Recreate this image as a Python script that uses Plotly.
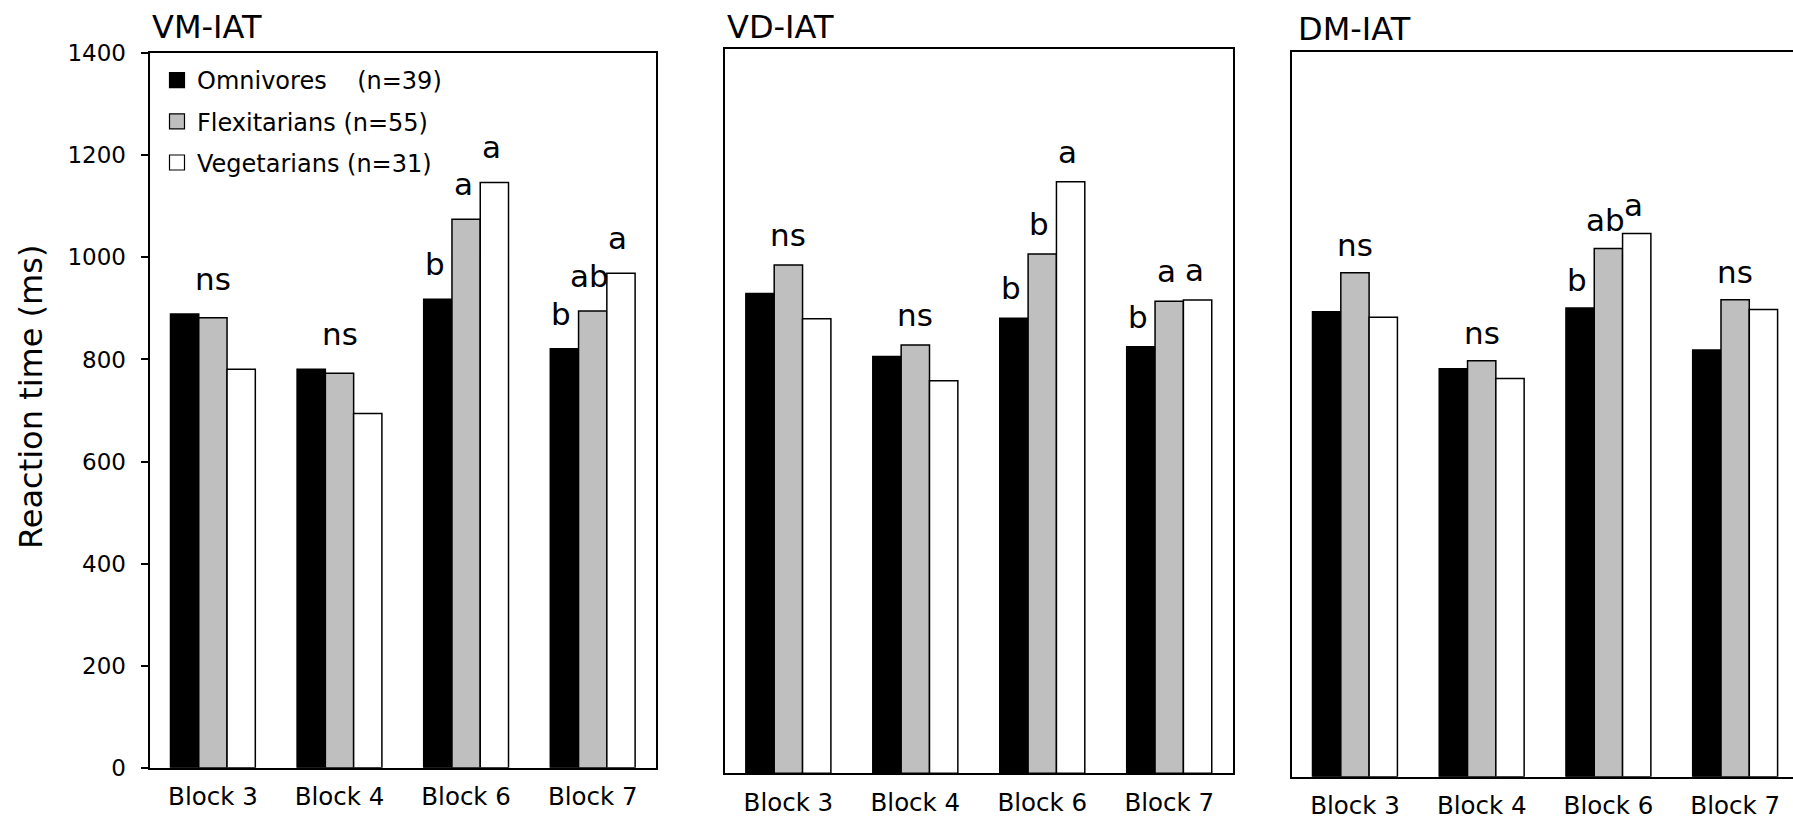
import plotly.graph_objects as go

# ---------------- data ----------------
blocks = ["Block 3", "Block 4", "Block 6", "Block 7"]
groups = ["Omnivores", "Flexitarians", "Vegetarians"]
legend_labels = ["Omnivores\u00a0\u00a0\u00a0 (n=39)", "Flexitarians (n=55)", "Vegetarians (n=31)"]
panel_titles = ["VM-IAT", "VD-IAT", "DM-IAT"]
y_title = "Reaction time (ms)"
y_ticks = [0, 200, 400, 600, 800, 1000, 1200, 1400]

vm_omni = [889, 781, 918, 821]
vm_flex = [882, 773, 1075, 895]
vm_veg = [781, 694, 1147, 969]

vd_omni = [928, 806, 880, 825]
vd_flex = [983, 828, 1004, 913]
vd_veg = [879, 759, 1144, 915]

dm_omni = [898, 788, 905, 824]
dm_flex = [973, 803, 1020, 921]
dm_veg = [887, 769, 1049, 902]

vm_letters = [["ns"], ["ns"], ["b", "a", "a"], ["b", "ab", "a"]]
vd_letters = [["ns"], ["ns"], ["b", "b", "a"], ["b", "a", "a"]]
dm_letters = [["ns"], ["ns"], ["b", "ab", "a"], ["ns"]]

# ---------------- style / layout ----------------
W, H = 1793, 820
FONT = "DejaVu Sans"
colors = ["#000000", "#BFBFBF", "#FFFFFF"]
BARGAP = 0.33

# panel pixel boxes (left, right, top, bottom); panel 3 is cropped at the right edge
boxes = [(149.6, 656.0, 53.3, 767.7), (724.9, 1232.7, 49.3, 773.3), (1291.6, 1798.5, 51.7, 776.7)]
label_lift = [15, 10, 8]
title_shift = [(0, 5), (0, 1), (4, 2)]

panels = [
    (vm_omni, vm_flex, vm_veg, vm_letters),
    (vd_omni, vd_flex, vd_veg, vd_letters),
    (dm_omni, dm_flex, dm_veg, dm_letters),
]

fig = go.Figure()
layout_axes = {}
annotations = []

for p, (omni, flex, veg, letters) in enumerate(panels):
    sfx = "" if p == 0 else str(p + 1)
    xa, ya = "x" + sfx, "y" + sfx
    series = [omni, flex, veg]
    for g in range(3):
        fig.add_trace(go.Bar(
            x=blocks, y=series[g], name=groups[g], xaxis=xa, yaxis=ya,
            marker=dict(color=colors[g], line=dict(color="#000000", width=1.5)),
            showlegend=False, hoverinfo="x+y+name",
        ))
    l, r, t, b = boxes[p]
    r_vis = min(r, W)
    full_px = r - l
    cat_px = full_px / 4.0
    x_hi = -0.5 + 4.0 * (r_vis - l) / full_px
    bar_px = cat_px * (1 - BARGAP) / 3.0

    layout_axes["xaxis" + sfx] = dict(
        domain=[l / W, r_vis / W], anchor=ya, range=[-0.5, x_hi], automargin=False,
        type="category", showline=True, linecolor="#000000", linewidth=2,
        mirror=True, ticks="", ticklabelstandoff=6, showgrid=False, zeroline=False,
        tickfont=dict(family=FONT, size=24.5, color="#000000"), fixedrange=True,
    )
    yax = dict(
        domain=[1 - b / H, 1 - t / H], anchor=xa, range=[0, 1400], automargin=False,
        showline=True, linecolor="#000000", linewidth=2, mirror=(p < 2),
        showgrid=False, zeroline=False, fixedrange=True,
    )
    if p == 0:
        yax.update(tickvals=y_ticks, ticks="outside", ticklen=7, tickwidth=1.5,
                   tickcolor="#000000", ticklabelstandoff=10,
                   tickfont=dict(family=FONT, size=23, color="#000000"))
    else:
        yax.update(showticklabels=False, ticks="")
    layout_axes["yaxis" + sfx] = yax

    # panel title
    annotations.append(dict(
        text=panel_titles[p], xref=xa + " domain", yref=ya + " domain", x=0, y=1,
        xanchor="left", yanchor="bottom", showarrow=False,
        xshift=title_shift[p][0], yshift=title_shift[p][1],
        font=dict(family=FONT, size=32, color="#000000"),
    ))

    # significance letters
    for c, labs in enumerate(letters):
        if len(labs) == 1:
            vals = [series[g][c] for g in range(3)]
            annotations.append(dict(
                text=labs[0], xref=xa, yref=ya, x=blocks[c], y=max(vals),
                xanchor="center", yanchor="bottom", showarrow=False,
                xshift=0, yshift=label_lift[p],
                font=dict(family=FONT, size=31, color="#000000"),
            ))
        else:
            for g, lab in enumerate(labs):
                annotations.append(dict(
                    text=lab, xref=xa, yref=ya, x=blocks[c], y=series[g][c],
                    xanchor="center", yanchor="bottom", showarrow=False,
                    xshift=(g - 1) * bar_px - 3, yshift=label_lift[p],
                    font=dict(family=FONT, size=31, color="#000000"),
                ))

# y-axis title (placed as rotated text, centred slightly above the axis middle as in the reference)
annotations.append(dict(
    text=y_title, xref="paper", yref="paper", x=31 / W, y=1 - 397 / H,
    xanchor="center", yanchor="middle", textangle=-90, showarrow=False,
    font=dict(family=FONT, size=32, color="#000000"),
))

# legend entries (square markers)
for g in range(3):
    fig.add_trace(go.Scatter(
        x=[None], y=[None], mode="markers", name=legend_labels[g],
        xaxis="x", yaxis="y", showlegend=True, legendgroup=groups[g],
        marker=dict(symbol="square", size=15, color=colors[g],
                    line=dict(color="#000000", width=1.2)),
    ))

fig.update_layout(
    width=W, height=H, margin=dict(l=0, r=0, t=0, b=0, autoexpand=False),
    paper_bgcolor="#FFFFFF", plot_bgcolor="#FFFFFF",
    barmode="group", bargap=BARGAP, bargroupgap=0,
    font=dict(family=FONT, color="#000000"),
    legend=dict(x=157 / W, y=1 - 58 / H, xanchor="left", yanchor="top",
                bgcolor="rgba(0,0,0,0)", borderwidth=0, itemsizing="trace",
                traceorder="grouped", tracegroupgap=7,
                font=dict(family=FONT, size=24, color="#000000")),
    annotations=annotations,
    **layout_axes,
)

fig.write_html("out.html")
